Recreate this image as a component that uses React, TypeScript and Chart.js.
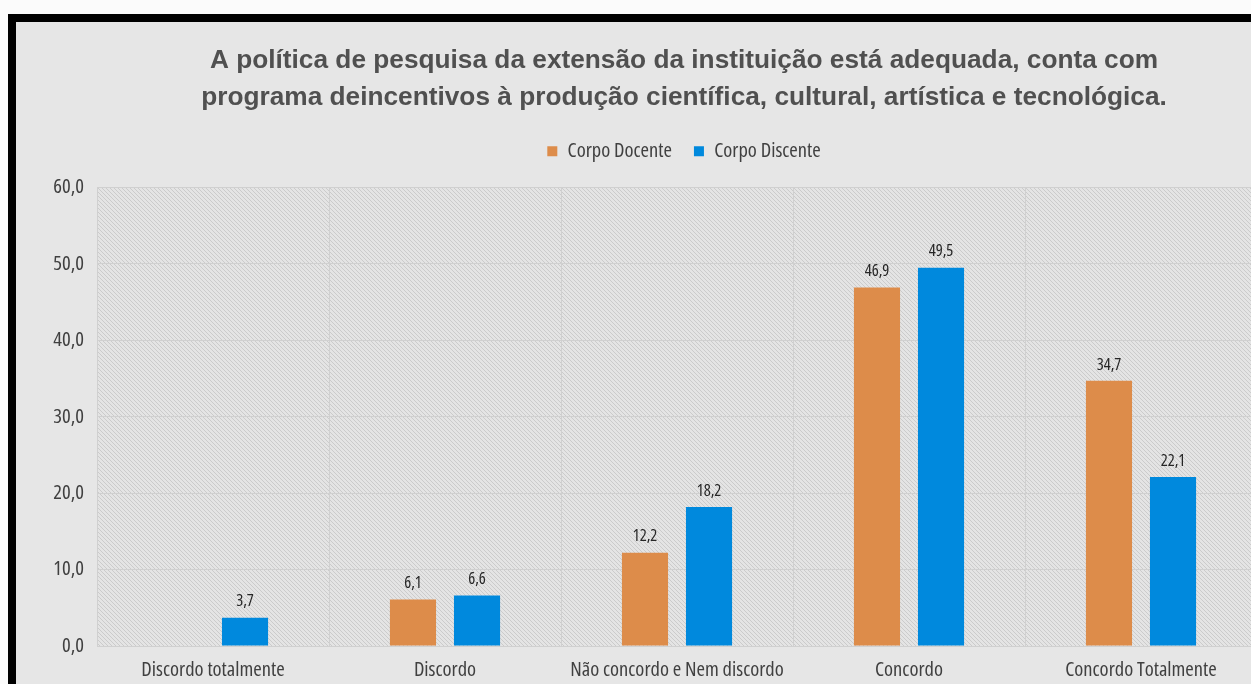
import React, { useEffect, useRef } from "react";
import { Chart, registerables } from "chart.js";

Chart.register(...registerables);

const categories = [
  "Discordo totalmente",
  "Discordo",
  "Não concordo e Nem discordo",
  "Concordo",
  "Concordo Totalmente",
];
const seriesNames = ["Corpo Docente", "Corpo Discente"];
const docenteValues = [0, 6.1, 12.2, 46.9, 34.7];
const discenteValues = [3.7, 6.6, 18.2, 49.5, 22.1];
const titleLines = [
  "A política de pesquisa da extensão da instituição está adequada, conta com",
  "programa deincentivos à produção científica, cultural, artística e tecnológica.",
];
const yMin = 0;
const yMax = 60;
const yStep = 10;

const ORANGE = "#dd8c4a";
const BLUE = "#0089dd";
const NARROW = "'Open Sans', 'Liberation Sans', Arial, sans-serif";
const NARROW_WEIGHT: any = "condensed";
const fmt = (v: number) => v.toFixed(1).replace(".", ",");

const hatchPlugin = {
  id: "hatch",
  beforeDraw(chart: any) {
    const { ctx, chartArea } = chart;
    if (!chartArea) return;
    const { left, top, right, bottom } = chartArea;
    const tile = document.createElement("canvas");
    tile.width = 4;
    tile.height = 4;
    const t = tile.getContext("2d")!;
    t.fillStyle = "#e4e4e4";
    t.fillRect(0, 0, 4, 4);
    t.fillStyle = "#cbcbcb";
    for (let i = 0; i < 4; i++) t.fillRect(i, i, 1, 1);
    const pat = ctx.createPattern(tile, "repeat");
    ctx.save();
    ctx.fillStyle = pat;
    ctx.fillRect(left, top, right - left, bottom - top);
    ctx.restore();
  },
};

const valueLabelPlugin = {
  id: "valueLabels",
  afterDatasetsDraw(chart: any) {
    const { ctx } = chart;
    ctx.save();
    ctx.font = `condensed 16.5px ${NARROW}`;
    ctx.fillStyle = "#262626";
    ctx.textAlign = "center";
    ctx.textBaseline = "middle";
    chart.data.datasets.forEach((ds: any, i: number) => {
      const meta = chart.getDatasetMeta(i);
      meta.data.forEach((bar: any, j: number) => {
        const v = ds.data[j];
        if (!v) return;
        ctx.fillText(fmt(v), bar.x, bar.y - 16);
      });
    });
    ctx.restore();
  },
};

export default function App() {
  const ref = useRef<HTMLCanvasElement>(null);

  useEffect(() => {
    if (!ref.current) return;
    const chart = new Chart(ref.current, {
      type: "bar",
      data: {
        labels: categories,
        datasets: [
          {
            label: seriesNames[0],
            data: docenteValues,
            backgroundColor: ORANGE,
            categoryPercentage: 0.552,
            barPercentage: 0.72,
          },
          {
            label: seriesNames[1],
            data: discenteValues,
            backgroundColor: BLUE,
            categoryPercentage: 0.552,
            barPercentage: 0.72,
          },
        ],
      },
      options: {
        responsive: false,
        maintainAspectRatio: false,
        animation: false,
        layout: { padding: { top: 0, right: 0, bottom: 26, left: 0 } },
        plugins: {
          title: {
            display: true,
            text: titleLines,
            color: "#505050",
            font: { family: "'Liberation Sans', Arial, sans-serif", size: 26.25, weight: "bold", lineHeight: 37 / 26.25 },
            padding: { top: 20, bottom: 3 },
          },
          subtitle: {
            display: true,
            text: "",
            weight: 500,
            font: { size: 1, lineHeight: 1 },
            padding: { top: 0, bottom: 15 },
          } as any,
          legend: {
            display: true,
            position: "top",
            labels: {
              boxWidth: 10,
              boxHeight: 10,
              padding: 22,
              color: "#404040",
              font: { family: NARROW, size: 20.5, weight: NARROW_WEIGHT },
            },
          },
          tooltip: { enabled: false },
        },
        scales: {
          x: {
            grid: { color: "#d0d0d0", drawTicks: false, offset: true },
            border: { display: false },
            ticks: {
              color: "#404040",
              font: { family: NARROW, size: 20.5, weight: NARROW_WEIGHT },
              padding: 12,
              maxRotation: 0,
              autoSkip: false,
            },
            afterFit(scale: any) {
              scale.height = 50;
            },
          },
          y: {
            min: yMin,
            max: yMax,
            grid: { color: "#d0d0d0", drawTicks: false },
            border: { display: false },
            ticks: {
              stepSize: yStep,
              color: "#404040",
              font: { family: NARROW, size: 20.5, weight: NARROW_WEIGHT },
              padding: 13,
              callback: (v: any) => fmt(Number(v)),
            },
            afterFit(scale: any) {
              scale.width = 81;
            },
          },
          yRight: {
            position: "right",
            min: yMin,
            max: yMax,
            grid: { display: false, drawTicks: false },
            border: { display: false },
            ticks: { display: false },
            afterFit(scale: any) {
              scale.width = 95;
            },
          },
        },
      },
      plugins: [hatchPlugin, valueLabelPlugin],
    });
    return () => chart.destroy();
  }, []);

  return (
    <div style={{ position: "fixed", left: 0, top: 0, width: 1251, height: 684, overflow: "hidden", background: "#fbfbfb" }}>
      <div
        style={{
          position: "absolute",
          left: 8,
          top: 14,
          width: 1400,
          height: 720,
          borderLeft: "8px solid #000",
          borderTop: "8px solid #000",
          background: "#e6e6e6",
        }}
      >
        <canvas ref={ref} width={1336} height={700} style={{ display: "block" }} />
      </div>
    </div>
  );
}
